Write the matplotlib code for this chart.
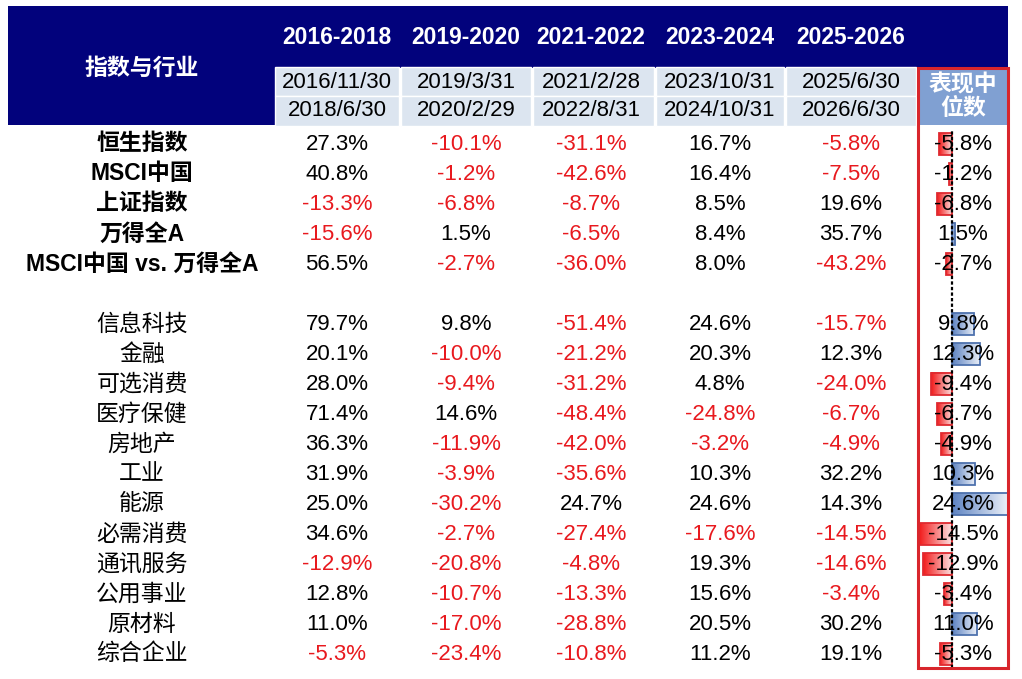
import matplotlib.pyplot as plt
import matplotlib.patches as mpatches
import numpy as np
from matplotlib.colors import LinearSegmentedColormap

plt.rcParams['font.family'] = ['Liberation Sans', 'Noto Sans CJK SC', 'DejaVu Sans']

periods = ['2016-2018', '2019-2020', '2021-2022', '2023-2024', '2025-2026']
start_dates = ['2016/11/30', '2019/3/31', '2021/2/28', '2023/10/31', '2025/6/30']
end_dates = ['2018/6/30', '2020/2/29', '2022/8/31', '2024/10/31', '2026/6/30']

index_names = ['恒生指数', 'MSCI中国', '上证指数', '万得全A', 'MSCI中国 vs. 万得全A']
index_values = [
    [27.3, -10.1, -31.1, 16.7, -5.8],
    [40.8, -1.2, -42.6, 16.4, -7.5],
    [-13.3, -6.8, -8.7, 8.5, 19.6],
    [-15.6, 1.5, -6.5, 8.4, 35.7],
    [56.5, -2.7, -36.0, 8.0, -43.2],
]
index_median = [-5.8, -1.2, -6.8, 1.5, -2.7]

sector_names = ['信息科技', '金融', '可选消费', '医疗保健', '房地产', '工业', '能源',
                '必需消费', '通讯服务', '公用事业', '原材料', '综合企业']
sector_values = [
    [79.7, 9.8, -51.4, 24.6, -15.7],
    [20.1, -10.0, -21.2, 20.3, 12.3],
    [28.0, -9.4, -31.2, 4.8, -24.0],
    [71.4, 14.6, -48.4, -24.8, -6.7],
    [36.3, -11.9, -42.0, -3.2, -4.9],
    [31.9, -3.9, -35.6, 10.3, 32.2],
    [25.0, -30.2, 24.7, 24.6, 14.3],
    [34.6, -2.7, -27.4, -17.6, -14.5],
    [-12.9, -20.8, -4.8, 19.3, -14.6],
    [12.8, -10.7, -13.3, 15.6, -3.4],
    [11.0, -17.0, -28.8, 20.5, 30.2],
    [-5.3, -23.4, -10.8, 11.2, 19.1],
]
sector_median = [9.8, 12.3, -9.4, -6.7, -4.9, 10.3, 24.6, -14.5, -12.9, -3.4, 11.0, -5.3]

NAVY = '#02027c'
CELL = '#dce5f0'
RED = '#e8191e'
W, H = 1022, 679

fig = plt.figure(figsize=(W / 100, H / 100), dpi=100)
ax = fig.add_axes([0, 0, 1, 1])
ax.set_xlim(0, W)
ax.set_ylim(H, 0)
ax.axis('off')

# layout (pixels)
col_left = [275, 401, 533, 656, 786]
col_right = [399, 531, 654, 784, 916]
col_center = [337, 466, 591, 720, 851]
label_x = 142
med_l, med_r = 918, 1008
row_h = 30
names = index_names + sector_names
values = index_values + sector_values
medians = index_median + sector_median
bold = [True] * len(index_names) + [False] * len(sector_names)
row_y = [144 + i * row_h for i in range(len(index_names))] + \
        [324 + i * row_h for i in range(len(sector_names))]

# header
ax.add_patch(mpatches.Rectangle((8, 6), med_r - 8, 62, color=NAVY, lw=0))
ax.add_patch(mpatches.Rectangle((8, 6), 268, 119, color=NAVY, lw=0))
ax.text(label_x, 68, '指数与行业', color='white', fontsize=16.5, fontweight='bold',
        ha='center', va='center')
for i, p in enumerate(periods):
    ax.text(col_center[i], 38, p, color='white', fontsize=16.5, fontweight='bold',
            ha='center', va='center')
    ax.add_patch(mpatches.Rectangle((col_left[i], 67), col_right[i] - col_left[i], 29,
                                    facecolor=CELL, edgecolor='white', lw=1))
    ax.add_patch(mpatches.Rectangle((col_left[i], 96), col_right[i] - col_left[i], 30,
                                    facecolor=CELL, edgecolor='white', lw=1))
    ax.text(col_center[i], 83, start_dates[i], fontsize=16, ha='center', va='center')
    ax.text(col_center[i], 111, end_dates[i], fontsize=16, ha='center', va='center')

ax.add_patch(mpatches.Rectangle((med_l, 68), med_r - med_l, 57, color='#80a0d2', lw=0))
ax.text((med_l + med_r) / 2, 97, '表现中\n位数', color='white', fontsize=16.5,
        fontweight='bold', ha='center', va='center', linespacing=1.05)

# body
for name, vals, b, y in zip(names, values, bold, row_y):
    ax.text(label_x, y, name, fontsize=16.5, fontweight='bold' if b else 'normal',
            ha='center', va='center')
    for i, v in enumerate(vals):
        ax.text(col_center[i], y, f'{v:.1f}%', fontsize=16, ha='center', va='center',
                color=RED if v < 0 else 'black')

# data bars in median column
bx = fig.add_axes([med_l / W, 1 - 668 / H, (med_r - med_l) / W, (668 - 125) / H])
bx.axis('off')
lo, hi = min(medians) * 1.03, max(medians) * 1.0
red_cm = LinearSegmentedColormap.from_list('r', ['#f21a1a', '#fde6e6'])
blue_cm = LinearSegmentedColormap.from_list('b', ['#5d83c2', '#eef2f9'])
grad = np.linspace(0, 1, 256).reshape(1, -1)
bh = 22
for v, y in zip(medians, row_y):
    cm = red_cm if v < 0 else blue_cm
    x0, x1 = min(0, v), max(0, v)
    bx.imshow(grad, cmap=cm, extent=(x0, x1, y + bh / 2, y - bh / 2), aspect='auto',
              zorder=1)
bars = bx.barh(row_y, medians, height=bh, fill=False, zorder=2, linewidth=1.3,
               edgecolor=['#df2a30' if v < 0 else '#4e72ae' for v in medians])
bx.axvline(0, ymin=0, ymax=0.99, color='black', lw=1.6, ls=(0, (1.5, 1)), zorder=3)
bx.set_xlim(lo, hi)
bx.set_ylim(668, 125)

for v, y in zip(medians, row_y):
    ax.text(963, y, f'{v:.1f}%', fontsize=16, ha='center', va='center', zorder=5)

ax.set_zorder(bx.get_zorder() + 1)
ax.patch.set_visible(False)
ax.add_patch(mpatches.Rectangle((med_l, 68), med_r - med_l, 600, fill=False,
                                edgecolor='#d8262c', lw=2.2, zorder=6))

fig.savefig('out.png', dpi=100)
